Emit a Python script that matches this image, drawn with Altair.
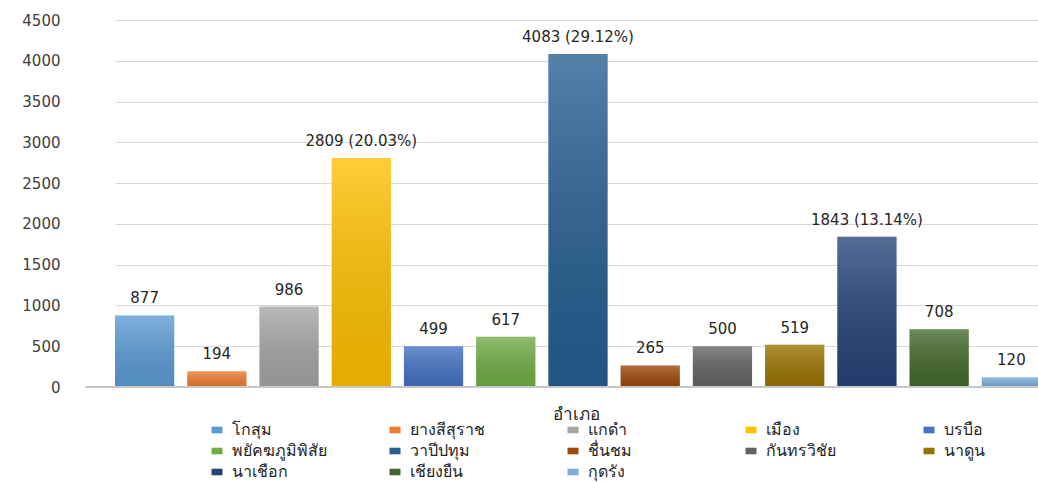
import math
import altair as alt
import pandas as pd

# District names, counts and bar colours
districts = ["โกสุม", "ยางสีสุราช", "แกดำ", "เมือง", "บรบือ", "พยัคฆภูมิพิสัย",
             "วาปีปทุม", "ชื่นชม", "กันทรวิชัย", "นาดูน", "นาเชือก", "เชียงยืน", "กุดรัง"]
counts = [877, 194, 986, 2809, 499, 617, 4083, 265, 500, 519, 1843, 708, 120]
show_share = [False, False, False, True, False, False, True,
              False, False, False, True, False, False]
colors = ["#5B9BD5", "#ED7D31", "#A5A5A5", "#FFC000", "#4472C4", "#70AD47",
          "#255E91", "#9E480E", "#636363", "#997300", "#264478", "#43682B", "#7CAFDD"]
y_ticks = [0, 500, 1000, 1500, 2000, 2500, 3000, 3500, 4000, 4500]

total = sum(counts)


def share_text(v):
    # percentage of the total, cut (not rounded) to two decimals
    return f"{math.floor(v / total * 10000) / 100:.2f}%"


labels = [f"{v} ({share_text(v)})" if s else str(v)
          for v, s in zip(counts, show_share)]

df = pd.DataFrame({"district": districts, "count": counts, "label": labels})

FONT = "DejaVu Sans"
W, H = 953, 367

x = alt.X(
    "district:N", sort=districts,
    scale=alt.Scale(range=[30, 956], paddingInner=0.18, paddingOuter=0),
    axis=alt.Axis(labels=False, ticks=False, domain=False, title="อำเภอ",
                  titleFontSize=17, titleFontWeight="normal", titleColor="#262626",
                  titleFont=FONT, titlePadding=19, titleX=491),
)
y = alt.Y(
    "count:Q",
    scale=alt.Scale(domain=[0, 4500], nice=False),
    axis=alt.Axis(values=y_ticks, format="d", title=None, domain=False, ticks=False,
                  labelPadding=25, labelFontSize=15, labelColor="#404040",
                  labelFont=FONT, gridColor="#d9d9d9", gridWidth=1),
)

base = alt.Chart(df).encode(x=x, y=y)

bars = base.mark_bar().encode(
    color=alt.Color(
        "district:N", sort=districts,
        scale=alt.Scale(domain=districts, range=colors),
        legend=alt.Legend(
            title=None, orient="none", legendX=124, legendY=402, columns=5,
            direction="horizontal", gridAlign="all", columnPadding=60,
            symbolType="M-1,-0.6H1V0.6H-1Z", symbolSize=121, symbolStrokeWidth=0,
            labelFontSize=16, labelColor="#262626", labelFont=FONT,
            rowPadding=5, symbolOffset=0, labelOffset=7,
        ),
    )
)

# soft top-to-bottom shading over every bar
shade = base.mark_bar(
    color=alt.Gradient(
        gradient="linear", x1=0, x2=0, y1=0, y2=1,
        stops=[alt.GradientStop(color="rgba(255,255,255,0.22)", offset=0),
               alt.GradientStop(color="rgba(0,0,0,0.10)", offset=1)],
    )
)

text = base.mark_text(
    baseline="bottom", dy=-9, fontSize=15, color="#262626", font=FONT
).encode(text="label:N")

baseline = alt.Chart(df).mark_rule(color="#c8c8c8", strokeWidth=2).encode(
    y=alt.datum(0), x=alt.value(0), x2=alt.value(W)
)

chart = alt.layer(bars, shade, baseline, text).properties(
    width=W, height=H,
    autosize=alt.AutoSizeParams(type="none"),
    padding={"left": 85, "top": 20, "right": 0, "bottom": 95},
    background="white",
).configure_view(stroke=None)

chart.save("out.html", embed_options={"renderer": "svg", "actions": False})
